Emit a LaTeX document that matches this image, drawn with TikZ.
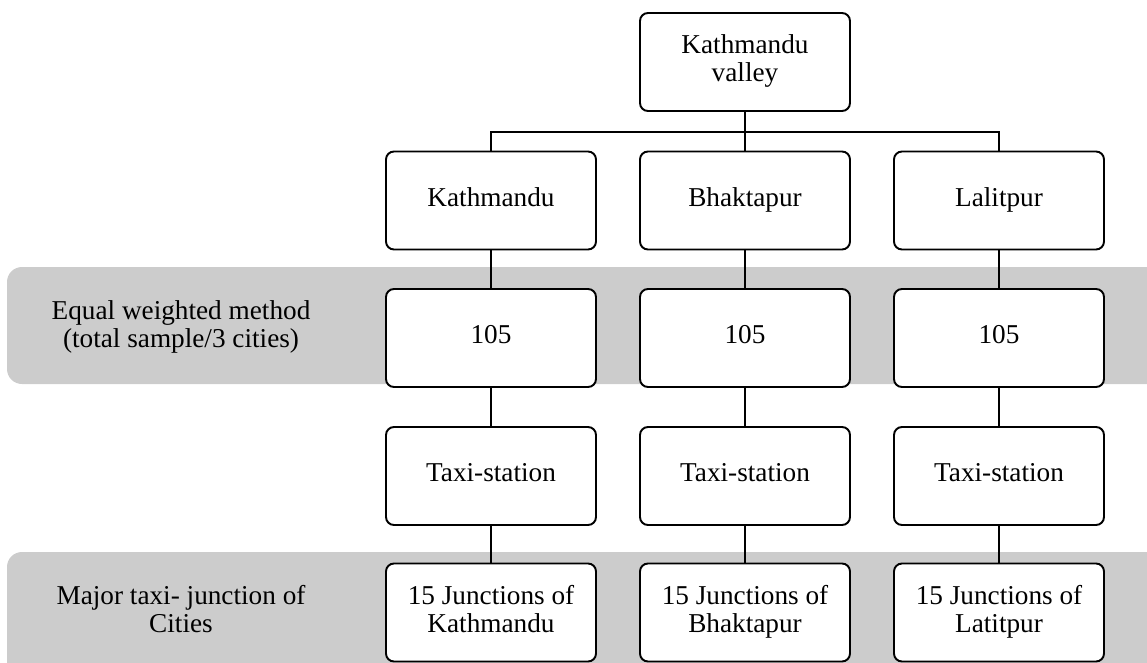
\documentclass[tikz,border=0pt]{standalone}
\usepackage{fontspec}
\setmainfont{Liberation Serif}
\begin{document}
\begin{tikzpicture}[font=\fontsize{15.5}{16}\selectfont,
  box/.style={draw, line width=1.1pt, rounded corners=0.16cm, fill=white, align=center,
    minimum width=4.2cm, minimum height=1.96cm, inner sep=2pt},
  band/.style={fill=black!20, rounded corners=0.3cm},
  link/.style={line width=0.8pt},
  lab/.style={align=center}]
\useasboundingbox (0,0) rectangle (22.94,-13.24);
\clip (0,0) rectangle (22.94,-13.24);
% grey bands behind the rows
\fill[band] (0.14,-5.34) rectangle (23.5,-7.68);
\fill[band] (0.14,-11.04) rectangle (23.5,-13.8);
\node[lab] (labnum) at (3.62,-6.55) {\strut Equal weighted method\\\strut(total sample/3 cities)};
\node[lab] (labjunc) at (3.62,-12.25) {\strut Major taxi- junction of\\\strut Cities};
\node[box] (root) at (14.9,-1.24) {\strut Kathmandu\\\strut valley};
\coordinate (bus) at (14.9,-2.64);
\foreach \c/\name/\jname/\x in {k/Kathmandu/Kathmandu/9.82, b/Bhaktapur/Bhaktapur/14.9, l/Lalitpur/Latitpur/19.98} {
  \node[box] (city\c) at (\x,-4.01) {\strut\name};
  \node[box] (num\c) at (\x,-6.76) {\strut 105};
  \node[box] (taxi\c) at (\x,-9.52) {\strut Taxi-station};
  \node[box] (junc\c) at (\x,-12.25) {\strut 15 Junctions of\\\strut\jname};
  \draw[link] (city\c) -- (num\c);
  \draw[link] (num\c) -- (taxi\c);
  \draw[link] (taxi\c) -- (junc\c);
}
\draw[link] (root) -- (cityb);
\draw[link] (cityk.north) |- (bus) -| (cityl.north);
\end{tikzpicture}
\end{document}
